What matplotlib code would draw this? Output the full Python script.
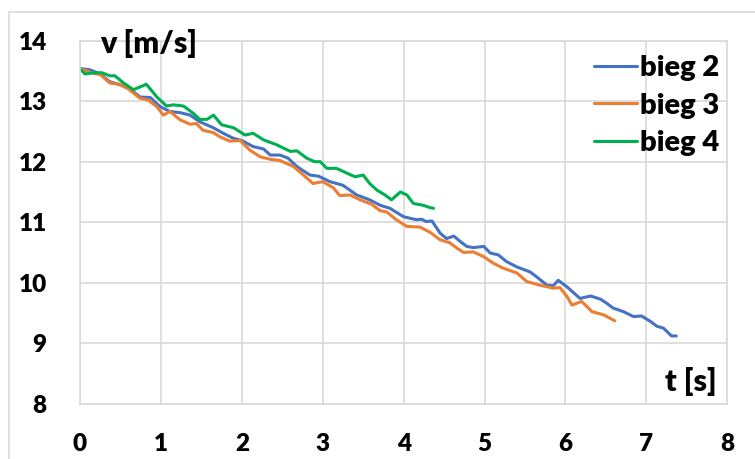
import matplotlib
matplotlib.use("Agg")
import matplotlib.pyplot as plt
from matplotlib.patches import Rectangle

# Speed vs. time for three gears
t_bieg2 = [0.00, 0.12, 0.25, 0.37, 0.50, 0.62, 0.74, 0.87, 0.99, 1.11, 1.24, 1.36, 1.48, 1.65,
           1.77, 1.89, 2.00, 2.14, 2.27, 2.35, 2.47, 2.57, 2.68, 2.84, 2.95, 3.09, 3.25, 3.42,
           3.58, 3.71, 3.83, 4.00, 4.16, 4.22, 4.28, 4.35, 4.45, 4.53, 4.62, 4.70, 4.78, 4.86,
           4.99, 5.07, 5.17, 5.27, 5.40, 5.56, 5.64, 5.77, 5.85, 5.91, 6.02, 6.18, 6.31, 6.43,
           6.51, 6.59, 6.72, 6.84, 6.94, 7.05, 7.13, 7.21, 7.31, 7.37]
v_bieg2 = [13.54, 13.52, 13.45, 13.32, 13.27, 13.20, 13.07, 13.06, 12.91, 12.83, 12.81, 12.77,
           12.66, 12.56, 12.47, 12.39, 12.35, 12.25, 12.21, 12.11, 12.11, 12.06, 11.92, 11.78,
           11.76, 11.67, 11.61, 11.45, 11.37, 11.28, 11.23, 11.09, 11.04, 11.05, 11.01, 11.02,
           10.82, 10.73, 10.77, 10.68, 10.60, 10.58, 10.60, 10.49, 10.46, 10.35, 10.26, 10.18,
           10.10, 9.96, 9.95, 10.04, 9.93, 9.74, 9.78, 9.73, 9.66, 9.58, 9.52, 9.44, 9.45, 9.36,
           9.28, 9.25, 9.12, 9.12]

t_bieg3 = [0.00, 0.16, 0.25, 0.37, 0.49, 0.60, 0.74, 0.84, 0.95, 1.03, 1.11, 1.24, 1.36, 1.44,
           1.52, 1.65, 1.73, 1.85, 1.98, 2.10, 2.23, 2.35, 2.47, 2.64, 2.76, 2.88, 3.00, 3.13,
           3.21, 3.34, 3.46, 3.60, 3.71, 3.79, 3.91, 4.04, 4.20, 4.33, 4.45, 4.57, 4.66, 4.74,
           4.86, 4.99, 5.11, 5.23, 5.40, 5.52, 5.68, 5.85, 5.93, 6.02, 6.08, 6.20, 6.33, 6.47,
           6.61]
v_bieg3 = [13.54, 13.46, 13.44, 13.30, 13.28, 13.20, 13.05, 13.02, 12.91, 12.77, 12.83, 12.69,
           12.62, 12.63, 12.52, 12.48, 12.41, 12.34, 12.35, 12.19, 12.08, 12.04, 12.02, 11.92,
           11.78, 11.64, 11.67, 11.57, 11.44, 11.45, 11.37, 11.30, 11.19, 11.17, 11.04, 10.93,
           10.92, 10.83, 10.71, 10.66, 10.57, 10.50, 10.51, 10.43, 10.32, 10.24, 10.16, 10.02,
           9.96, 9.91, 9.92, 9.77, 9.63, 9.69, 9.52, 9.47, 9.37]

t_bieg4 = [0.00, 0.06, 0.16, 0.27, 0.37, 0.43, 0.54, 0.66, 0.82, 0.95, 1.07, 1.15, 1.28, 1.40,
           1.48, 1.57, 1.65, 1.75, 1.90, 2.04, 2.14, 2.27, 2.43, 2.60, 2.68, 2.80, 2.90, 2.97,
           3.05, 3.17, 3.30, 3.40, 3.50, 3.58, 3.67, 3.77, 3.85, 3.96, 4.04, 4.12, 4.24, 4.33,
           4.37]
v_bieg4 = [13.54, 13.45, 13.47, 13.47, 13.42, 13.42, 13.30, 13.19, 13.28, 13.07, 12.92, 12.94,
           12.92, 12.80, 12.70, 12.70, 12.77, 12.61, 12.56, 12.44, 12.47, 12.36, 12.28, 12.17,
           12.18, 12.06, 12.00, 12.00, 11.89, 11.89, 11.81, 11.75, 11.78, 11.64, 11.53, 11.45,
           11.37, 11.50, 11.45, 11.31, 11.28, 11.24, 11.23]

series_names = ["bieg 2", "bieg 3", "bieg 4"]
x_ticks = [0, 1, 2, 3, 4, 5, 6, 7, 8]
y_ticks = [8, 9, 10, 11, 12, 13, 14]

FONT = "Lato"
GRID = "#D9D9D9"
colors = ["#4472C4", "#ED7D31", "#00B050"]

fig = plt.figure(figsize=(7.55, 4.59), dpi=100)
fig.patch.set_facecolor("white")

# chart area border (partly outside the canvas)
fig.patches.append(Rectangle((9 / 755, -0.1), 1.2, 1 - 12 / 459 + 0.1,
                             transform=fig.transFigure, fill=False,
                             edgecolor=GRID, linewidth=1.2))

ax = fig.add_axes([80 / 755, 1 - 403.7 / 459, (727.3 - 80) / 755, (403.7 - 40.7) / 459])

for (t, v), name, c in zip([(t_bieg2, v_bieg2), (t_bieg3, v_bieg3), (t_bieg4, v_bieg4)],
                           series_names, colors):
    ax.plot(t, v, color=c, lw=2.2, label=name, solid_joinstyle="round",
            solid_capstyle="round")

ax.set_xlim(0, 8)
ax.set_ylim(8, 14)
ax.set_xticks(x_ticks)
ax.set_yticks(y_ticks)
ax.grid(True, color=GRID, lw=1.2)
ax.set_axisbelow(True)
for s in ax.spines.values():
    s.set_color(GRID)
    s.set_linewidth(1.2)
ax.tick_params(length=0, labelsize=17.5, pad=0)
ax.tick_params(axis="x", pad=21)
ax.tick_params(axis="y", pad=24)
for lab in ax.get_xticklabels() + ax.get_yticklabels():
    lab.set_fontfamily(FONT)
    lab.set_fontweight("heavy")

ax.text(100 / 755, 1 - 44 / 459, "v [m/s]", transform=fig.transFigure,
        fontsize=22, fontweight="heavy", family=FONT, ha="left", va="center")
ax.text(717 / 755, 1 - 381 / 459, "t [s]", transform=fig.transFigure,
        fontsize=22, fontweight="heavy", family=FONT, ha="right", va="center")

leg = ax.legend(loc="upper right", bbox_to_anchor=(719 / 755, 1 - 55 / 459),
                bbox_transform=fig.transFigure, frameon=False,
                prop={"family": FONT, "weight": "heavy", "size": 21},
                handlelength=1.5, handletextpad=0.08, labelspacing=0.4,
                borderpad=0, borderaxespad=0)

fig.savefig("out.png", dpi=100)
